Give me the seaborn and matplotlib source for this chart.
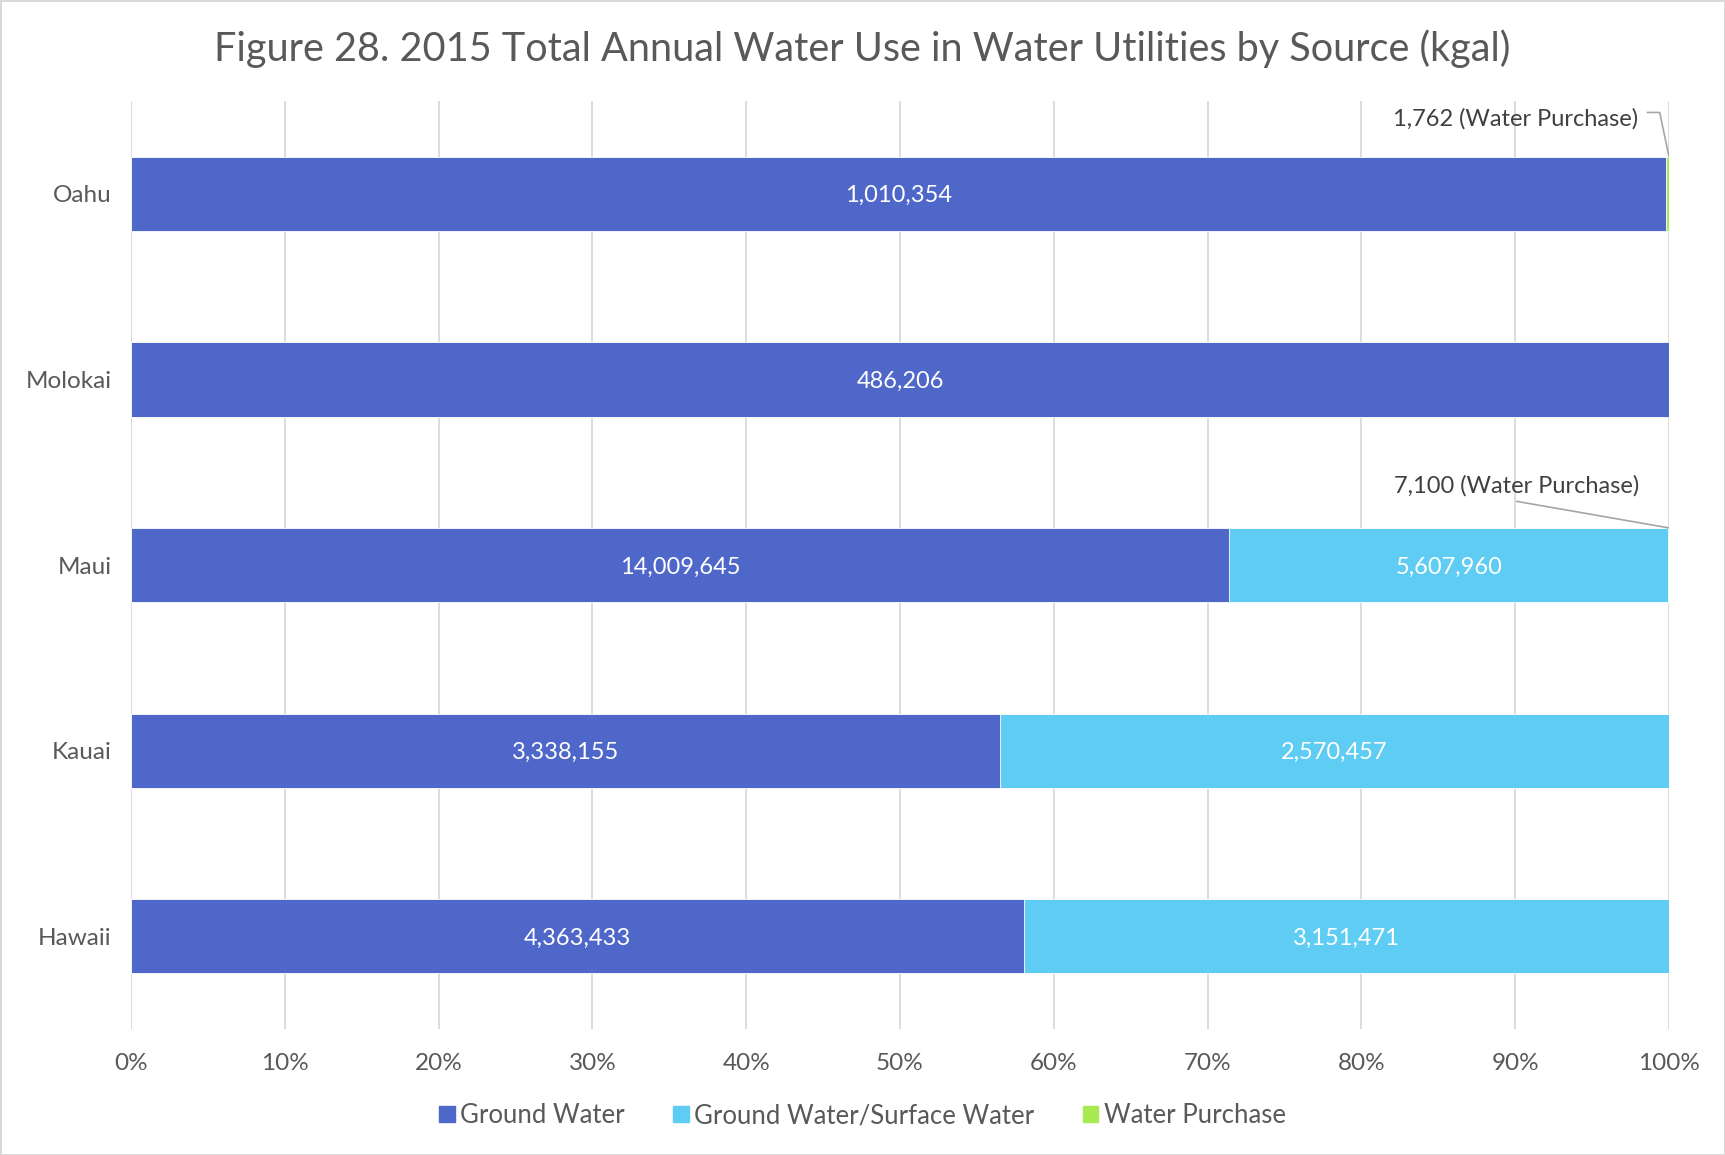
import pandas as pd
import matplotlib.pyplot as plt
import seaborn as sns

islands = ["Oahu", "Molokai", "Maui", "Kauai", "Hawaii"]
ground = [1010354, 486206, 14009645, 3338155, 4363433]
ground_surface = [0, 0, 5607960, 2570457, 3151471]
purchase = [1762, 0, 7100, 0, 0]
sources = ["Ground Water", "Ground Water/Surface Water", "Water Purchase"]
colors = ["#4E67C8", "#5ECCF3", "#A7EA52"]

df = pd.DataFrame({"island": islands, "Ground Water": ground,
                   "Ground Water/Surface Water": ground_surface,
                   "Water Purchase": purchase})
total = df[sources].sum(axis=1)
pct = df[sources].div(total, axis=0) * 100
cum = pct.cumsum(axis=1)

sns.set_style("white")
plt.rcParams["font.family"] = ["Lato", "DejaVu Sans"]

fig = plt.figure(figsize=(17.25, 11.55), dpi=100, edgecolor="#d9d9d9", linewidth=2)
ax = fig.add_axes([0.076, 0.109, 0.8915, 0.8036])

# stacked bars drawn as overlapping cumulative totals, longest first
for src, col in reversed(list(zip(sources, colors))):
    sns.barplot(x=cum[src], y=df["island"], orient="h", color=col, width=0.4,
                saturation=1, edgecolor="white", linewidth=0.6, ax=ax, zorder=2)

# segment labels
for i in range(len(islands)):
    left = 0
    for src in sources[:2]:
        w = pct.loc[i, src]
        if w > 0:
            ax.text(left + w / 2, i, f"{df.loc[i, src]:,}", ha="center",
                    va="center_baseline", color="white", fontsize=17, zorder=3)
        left += w

# callouts for the tiny water purchase segments
ax.text(98.0, -0.414, f"{purchase[0]:,} (Water Purchase)", ha="right",
        va="center_baseline", fontsize=17, color="#404040", zorder=3)
ax.plot([98.6, 99.4, 100], [-0.438, -0.438, -0.2], color="#a6a6a6", lw=1.2, zorder=3)
ax.text(90.1, 1.562, f"{purchase[2]:,} (Water Purchase)", ha="center",
        va="center_baseline", fontsize=17, color="#404040", zorder=3)
ax.plot([90.1, 100], [1.657, 1.8], color="#a6a6a6", lw=1.2, zorder=3)

ax.set_xlim(0, 100)
ax.set_ylim(4.5, -0.5)
ax.set_xticks(range(0, 101, 10))
ax.set_xticklabels([f"{t}%" for t in range(0, 101, 10)])
ax.grid(axis="x", color="#d9d9d9", lw=1.3, zorder=0)
ax.set_axisbelow(True)
for s in ax.spines.values():
    s.set_visible(False)
ax.tick_params(axis="both", length=0, labelsize=17.5, labelcolor="#595959")
ax.tick_params(axis="y", pad=14)
ax.tick_params(axis="x", pad=17)
ax.set_xlabel("")
ax.set_ylabel("")

fig.suptitle("Figure 28. 2015 Total Annual Water Use in Water Utilities by Source (kgal)",
             y=0.975, fontsize=28.5, color="#595959")

handles = [plt.Rectangle((0, 0), 1, 1, color=c) for c in colors]
fig.legend(handles, sources, loc="center", bbox_to_anchor=(0.5, 0.034), ncol=3,
           frameon=False, fontsize=18.5, labelcolor="#595959", handlelength=0.6,
           handleheight=0.6, handletextpad=0.2, columnspacing=1.9)

fig.savefig("out.png", dpi=100, edgecolor=fig.get_edgecolor())
